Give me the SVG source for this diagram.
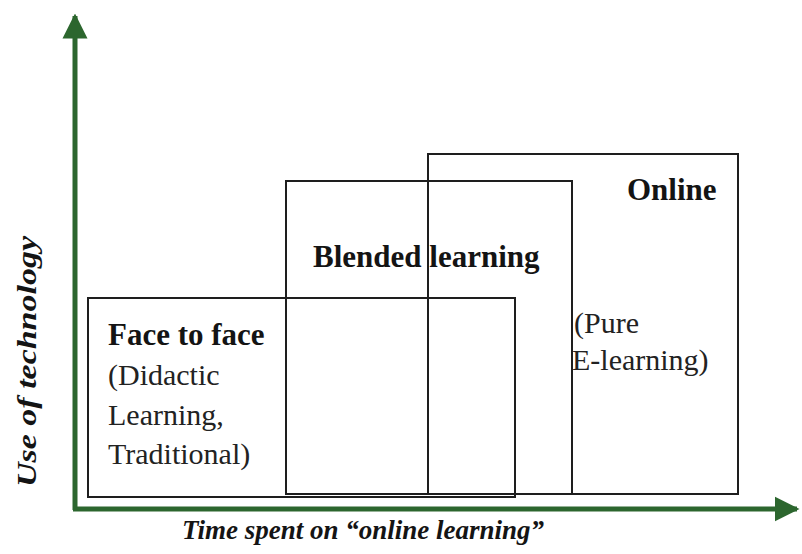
<svg xmlns="http://www.w3.org/2000/svg" width="802" height="554" viewBox="0 0 802 554">
<style>
.box{fill:none;stroke:#1e1e1e;stroke-width:2}
.ax{stroke:#2c662e;stroke-width:5;fill:none}
.b{font-family:"Liberation Serif",serif;font-weight:bold;font-size:31px;fill:#141414}
.r{font-family:"Liberation Serif",serif;font-size:30px;fill:#222}
.bi{font-family:"Liberation Serif",serif;font-weight:bold;font-style:italic;font-size:27px;fill:#141414}
</style>
<defs>
<marker id="ah" viewBox="0 0 10 10" refX="9" refY="5" markerWidth="5" markerHeight="5.5" orient="auto" markerUnits="strokeWidth">
<path d="M0,0 L10,5 L0,10 z" fill="#2c662e"/>
</marker>
</defs>
<rect width="802" height="554" fill="#fff"/>
<g id="face">
<rect class="box" x="88" y="298" width="427" height="199"/>
<text class="b" x="108" y="345">Face to face</text>
<text class="r" x="108" y="385">(Didactic</text>
<text class="r" x="108" y="425">Learning,</text>
<text class="r" x="108" y="464">Traditional)</text>
</g>
<g id="blended">
<rect class="box" x="286" y="181" width="286" height="313"/>
<text class="b" x="313" y="267">Blended learning</text>
</g>
<g id="online">
<rect class="box" x="428" y="154" width="310" height="340"/>
<text class="b" x="627" y="200">Online</text>
<text class="r" x="574" y="333">(Pure</text>
<text class="r" x="572" y="370">E-learning)</text>
</g>
<g id="connectors">
<line class="ax" x1="75" y1="510" x2="75" y2="16" marker-end="url(#ah)"/>
<line class="ax" x1="73" y1="509" x2="797" y2="509" marker-end="url(#ah)"/>
</g>
<g id="labels">
<text class="bi" x="182" y="539">Time spent on “online learning”</text>
<text class="bi" transform="translate(36,487) rotate(-90)" font-size="30" textLength="251" lengthAdjust="spacingAndGlyphs">Use of technology</text>
</g>
</svg>
